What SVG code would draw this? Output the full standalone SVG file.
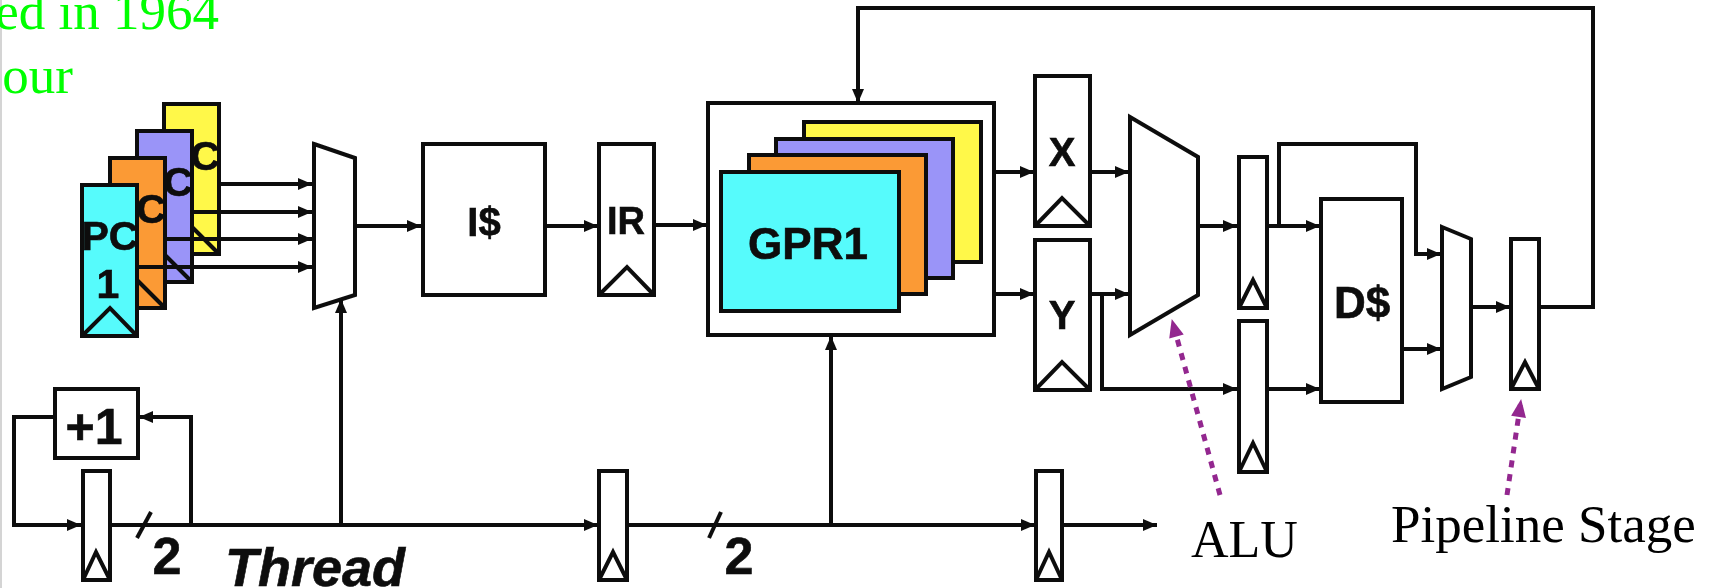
<svg xmlns="http://www.w3.org/2000/svg" width="1720" height="588" viewBox="0 0 1720 588">
<style>
.b{stroke:#111;stroke-width:4;stroke-linejoin:miter}
.w{fill:#fff}
.cy{fill:#57fbfc}.or{fill:#fb9a35}.pu{fill:#9a94f8}.ye{fill:#fff84a}
.n{fill:none;stroke:#111;stroke-width:4}
.c{fill:none;stroke:#111;stroke-width:4;marker-end:url(#a)}
.d{fill:none;stroke:#93278f;stroke-width:5;stroke-dasharray:7 7;marker-end:url(#p)}
.t{font-family:"Liberation Sans",Arial,sans-serif;font-weight:700;fill:#0a0a0a;stroke:#0a0a0a;stroke-width:.6;text-anchor:middle}
.s{font-family:"Liberation Serif","Times New Roman",serif;font-size:53px}
</style>
<defs>
<filter id="soft" filterUnits="userSpaceOnUse" x="0" y="0" width="1720" height="588"><feGaussianBlur stdDeviation="0.6"/></filter>
<marker id="a" markerUnits="userSpaceOnUse" markerWidth="16" markerHeight="16" viewBox="0 0 16 16" refX="15" refY="8" orient="auto"><path d="M1 2L15 8L1 14Z" fill="#111"/></marker>
<marker id="p" markerUnits="userSpaceOnUse" markerWidth="20" markerHeight="20" viewBox="0 0 20 20" refX="18" refY="10" orient="auto"><path d="M1 2.5L19 10L1 17.5Z" fill="#93278f"/></marker>
</defs>
<rect width="2" height="588" fill="#d4d4d4"/>
<g id="note-top"><text class="s" x="219" y="29" text-anchor="end" fill="#00ff00">ed in 1964</text><text class="s" x="73" y="93" text-anchor="end" fill="#00ff00">our</text></g>
<g filter="url(#soft)">
<g id="pc-4"><rect class="b ye" x="164" y="104" width="55" height="150"/><path class="n" d="M191 226L219 254"/><text class="t" x="205" y="170" font-size="41">C</text></g>
<g id="pc-3"><rect class="b pu" x="137" y="131" width="55" height="151"/><path class="n" d="M164 254L192 282"/><text class="t" x="178" y="196" font-size="41">C</text></g>
<g id="pc-2"><rect class="b or" x="110" y="158" width="55" height="150"/><path class="n" d="M137 280L165 308"/><text class="t" x="151" y="223" font-size="41">C</text></g>
<g id="pc-1"><rect class="b cy" x="82" y="185" width="55" height="151"/><path class="n" d="M82 336L110 308L137 336"/><text class="t" x="110" y="250" font-size="41">PC</text><text class="t" x="108" y="298" font-size="41">1</text></g>
<g id="connectors">
<path class="c" d="M219 184H312"/><path class="c" d="M192 212H312"/><path class="c" d="M165 239H312"/><path class="c" d="M137 267H312"/>
<path class="c" d="M355 226H421"/><path class="c" d="M545 226H598"/><path class="c" d="M654 225H707"/>
<path class="c" d="M994 172H1034"/><path class="c" d="M994 294H1034"/>
<path class="c" d="M1090 172H1129"/><path class="c" d="M1090 294H1129"/><path class="c" d="M1102 294V389H1237"/>
<path class="c" d="M1198 226H1237"/><path class="c" d="M1267 226H1320"/><path class="c" d="M1279 226V144H1416V254H1441"/>
<path class="c" d="M1267 389H1320"/><path class="c" d="M1402 349H1441"/><path class="c" d="M1471 307H1510"/>
<path class="c" d="M1539 307H1593V8H858V103"/>
<path class="c" d="M54 417H14V525H81"/><path class="c" d="M191 525V417H139"/>
<path class="n" d="M110 525H191"/><path class="c" d="M191 525H598"/><path class="c" d="M627 525H1035"/><path class="c" d="M1062 525H1157"/>
<path class="c" d="M341 525V299"/><path class="c" d="M831 525V336"/>
<path class="n" d="M137 538L151 512"/><path class="n" d="M709 538L721 512"/>
</g>
<g id="mux-1"><path class="b w" d="M314 144L355 158V295L314 308Z"/></g>
<g id="icache"><rect class="b w" x="423" y="144" width="122" height="151"/><text class="t" x="484" y="236" font-size="40">I$</text></g>
<g id="ir"><rect class="b w" x="599" y="144" width="55" height="151"/><path class="n" d="M599 295L627 267L654 295"/><text class="t" x="626" y="234" font-size="38">IR</text></g>
<g id="gpr"><rect class="b w" x="708" y="103" width="286" height="232"/><rect class="b ye" x="804" y="122" width="177" height="140"/><rect class="b pu" x="776" y="139" width="177" height="139"/><rect class="b or" x="749" y="155" width="177" height="139"/><rect class="b cy" x="721" y="172" width="178" height="139"/><text class="t" x="808" y="259" font-size="44">GPR1</text></g>
<g id="x-reg"><rect class="b w" x="1035" y="76" width="55" height="150"/><path class="n" d="M1035 226L1062 198L1090 226"/><text class="t" x="1062" y="166" font-size="40">X</text></g>
<g id="y-reg"><rect class="b w" x="1035" y="240" width="55" height="150"/><path class="n" d="M1035 390L1062 362L1090 390"/><text class="t" x="1062" y="329" font-size="40">Y</text></g>
<g id="alu"><path class="b w" d="M1130 117L1198 157V295L1130 335Z"/></g>
<g id="reg-m1"><rect class="b w" x="1239" y="157" width="28" height="151"/><path class="n" d="M1239 308L1253 280L1267 308"/></g>
<g id="reg-m2"><rect class="b w" x="1239" y="321" width="28" height="151"/><path class="n" d="M1239 472L1253 443L1267 472"/></g>
<g id="dcache"><rect class="b w" x="1321" y="199" width="81" height="203"/><text class="t" x="1362" y="318" font-size="44">D$</text></g>
<g id="mux-2"><path class="b w" d="M1442 227L1471 239V377L1442 389Z"/></g>
<g id="reg-w"><rect class="b w" x="1511" y="239" width="28" height="150"/><path class="n" d="M1511 389L1525 362L1539 389"/></g>
<g id="inc"><rect class="b w" x="55" y="389" width="83" height="69"/><text class="t" x="94" y="444" font-size="50">+1</text></g>
<g id="thread-1"><rect class="b w" x="83" y="471" width="27" height="109"/><path class="n" d="M83 580L96 552L110 580"/></g>
<g id="thread-2"><rect class="b w" x="599" y="471" width="28" height="109"/><path class="n" d="M599 580L613 552L627 580"/></g>
<g id="thread-3"><rect class="b w" x="1036" y="471" width="26" height="109"/><path class="n" d="M1036 580L1049 552L1062 580"/></g>
<g id="labels"><text class="t" x="167" y="574" font-size="52">2</text><text class="t" x="739" y="574" font-size="52">2</text><text class="t" x="315" y="586" font-size="54" font-style="italic">Thread</text></g>
</g>
<g id="callouts"><path class="d" d="M1220 495L1172 320"/><path class="d" d="M1507 495L1521 400"/><text class="s" x="1191" y="557" style="font-size:52px">ALU</text><text class="s" x="1391" y="542">Pipeline Stage</text></g>
</svg>
